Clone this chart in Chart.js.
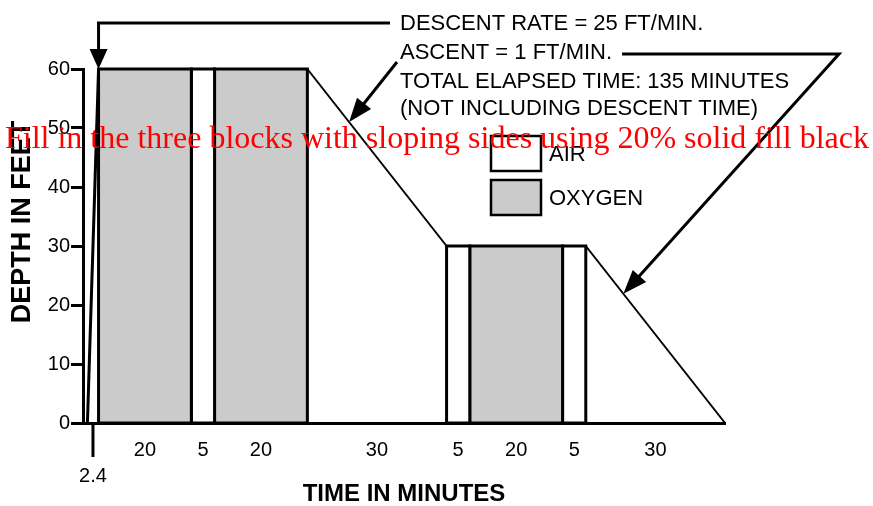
<!DOCTYPE html>
<html>
<head>
<meta charset="utf-8">
<title>Dive profile</title>
<script src="https://cdn.jsdelivr.net/npm/chart.js@4.4.1/dist/chart.umd.min.js"></script>
<style>
  html, body { margin: 0; padding: 0; background: #fff; }
  #wrap { width: 873px; height: 506px; }
</style>
</head>
<body>
<div id="wrap"><canvas id="diveChart" width="873" height="506"></canvas></div>
<script>
// Dive profile data: minutes per segment, depth in feet
const segmentMinutes = [20, 5, 20, 30, 5, 20, 5, 30];
const segmentGas = ['OXYGEN', 'AIR', 'OXYGEN', 'ASCENT', 'AIR', 'OXYGEN', 'AIR', 'ASCENT'];
const segmentStartDepth = [60, 60, 60, 60, 30, 30, 30, 30];
const segmentEndDepth = [60, 60, 60, 30, 30, 30, 30, 0];
const descentMinutes = 2.4;
const bottomDepth = 60;
const depthTicks = [0, 10, 20, 30, 40, 50, 60];
const legendLabels = ['AIR', 'OXYGEN'];
const noteLines = [
    'DESCENT RATE = 25 FT/MIN.',
    'ASCENT = 1 FT/MIN.',
    'TOTAL ELAPSED TIME: 135 MINUTES',
    '(NOT INCLUDING DESCENT TIME)'
];
const overlayNote = 'Fill in the three blocks with sloping sides using 20% solid fill black';

const FONT = '"Liberation Sans", Arial, Helvetica, sans-serif';
const gasStyle = {
    OXYGEN: { fill: '#cbcbcb', width: 3 },
    AIR: { fill: '#ffffff', width: 3 }
};

// segment start times
let clock = 0;
const segmentStart = segmentMinutes.map(function(m) {
    const s = clock;
    clock += m;
    return s;
});
const totalMinutes = clock;

// x tick marks sit under the middle of each segment
const xTickValues = [-descentMinutes / 2].concat(segmentStart.map(function(s, i) {
    return s + segmentMinutes[i] / 2;
}));
const xTickLabels = [['', String(descentMinutes)]].concat(segmentMinutes.map(String));

// build datasets
const blockSets = [];
const slopeSets = [];
segmentGas.forEach(function(gas, i) {
    const t0 = segmentStart[i];
    const t1 = t0 + segmentMinutes[i];
    if (gas === 'ASCENT') {
        slopeSets.push({
            label: 'ascent',
            data: [{ x: t0, y: segmentStartDepth[i] }, { x: t1, y: segmentEndDepth[i] }],
            borderColor: '#000',
            borderWidth: 2,
            fill: false,
            pointRadius: 0,
            clip: false
        });
    } else {
        blockSets.push({
            label: gas,
            data: [
                { x: t0, y: 0 },
                { x: t0, y: segmentStartDepth[i] },
                { x: t1, y: segmentEndDepth[i] },
                { x: t1, y: 0 },
                { x: t0, y: 0 }
            ],
            borderColor: '#000',
            borderWidth: gasStyle[gas].width,
            backgroundColor: gasStyle[gas].fill,
            borderCapStyle: 'square',
            borderJoinStyle: 'miter',
            fill: 'shape',
            pointRadius: 0,
            clip: false
        });
    }
});
const descentSet = {
    label: 'descent',
    data: [{ x: -descentMinutes, y: 0 }, { x: 0, y: bottomDepth }],
    borderColor: '#000',
    borderWidth: 3,
    fill: false,
    pointRadius: 0,
    clip: false
};

function drawArrow(ctx, pts, headLen, headHalf) {
    const n = pts.length;
    const tip = pts[n - 1];
    const prev = pts[n - 2];
    const a = Math.atan2(tip[1] - prev[1], tip[0] - prev[0]);
    ctx.beginPath();
    ctx.moveTo(pts[0][0], pts[0][1]);
    for (let i = 1; i < n - 1; i++) ctx.lineTo(pts[i][0], pts[i][1]);
    ctx.lineTo(tip[0] - headLen * 0.7 * Math.cos(a), tip[1] - headLen * 0.7 * Math.sin(a));
    ctx.stroke();
    ctx.beginPath();
    ctx.moveTo(tip[0], tip[1]);
    ctx.lineTo(tip[0] - headLen * Math.cos(a) + headHalf * Math.sin(a), tip[1] - headLen * Math.sin(a) - headHalf * Math.cos(a));
    ctx.lineTo(tip[0] - headLen * Math.cos(a) - headHalf * Math.sin(a), tip[1] - headLen * Math.sin(a) + headHalf * Math.cos(a));
    ctx.closePath();
    ctx.fill();
}

// point along a segment's slope, as pixels
function slopePixel(chart, i, frac) {
    const t = segmentStart[i] + segmentMinutes[i] * frac;
    const d = segmentStartDepth[i] + (segmentEndDepth[i] - segmentStartDepth[i]) * frac;
    return [chart.scales.x.getPixelForValue(t), chart.scales.y.getPixelForValue(d)];
}

const notesPlugin = {
    id: 'diveNotes',
    afterDraw: function(chart) {
        const ctx = chart.ctx;
        const xs = chart.scales.x;
        const ys = chart.scales.y;
        ctx.save();
        ctx.fillStyle = '#000';
        ctx.strokeStyle = '#000';

        // y axis title
        ctx.save();
        ctx.translate(23, 222);
        ctx.rotate(-Math.PI / 2);
        ctx.font = 'bold 27px ' + FONT;
        ctx.textAlign = 'center';
        ctx.textBaseline = 'middle';
        ctx.fillText('DEPTH IN FEET', 0, 0);
        ctx.restore();

        // descent tick below the axis
        const dx = xs.getPixelForValue(-descentMinutes / 2);
        ctx.lineWidth = 3;
        ctx.beginPath();
        ctx.moveTo(dx, chart.chartArea.bottom);
        ctx.lineTo(dx, chart.chartArea.bottom + 34);
        ctx.stroke();

        // legend
        ctx.font = '22px ' + FONT;
        ctx.textAlign = 'left';
        ctx.textBaseline = 'middle';
        ctx.lineWidth = 2.5;
        legendLabels.forEach(function(lbl, i) {
            const top = 136 + i * 44;
            ctx.fillStyle = gasStyle[lbl].fill;
            ctx.fillRect(491, top, 50, 35);
            ctx.strokeRect(491, top, 50, 35);
            ctx.fillStyle = '#000';
            ctx.fillText(lbl, 549, top + 19);
        });

        // notes
        const noteY = [24, 53, 82, 109];
        noteLines.forEach(function(line, i) {
            ctx.fillText(line, 400, noteY[i]);
        });

        // arrows
        ctx.lineWidth = 3;
        const topTip = [xs.getPixelForValue(0), ys.getPixelForValue(bottomDepth)];
        drawArrow(ctx, [[390, 23], [topTip[0], 23], topTip], 20, 9);
        drawArrow(ctx, [[397, 62], slopePixel(chart, 3, 0.3)], 24, 9);
        const ascentEnd = 400 + ctx.measureText(noteLines[1]).width + 10;
        drawArrow(ctx, [[ascentEnd, 54], [839, 54], slopePixel(chart, 7, 0.27)], 24, 9);

        // red overlay note
        ctx.fillStyle = '#ff0000';
        ctx.font = '32px "Liberation Serif", "Times New Roman", serif';
        ctx.textBaseline = 'alphabetic';
        ctx.fillText(overlayNote, 5, 148);
        ctx.restore();
    }
};

Chart.defaults.font.family = FONT;
Chart.defaults.color = '#000';

const diveChart = new Chart(document.getElementById('diveChart'), {
    type: 'line',
    data: {
        datasets: blockSets.concat(slopeSets, [descentSet])
    },
    options: {
        responsive: false,
        animation: false,
        devicePixelRatio: 1,
        layout: { padding: { top: 69, right: 148, bottom: 0, left: 0 } },
        plugins: {
            legend: { display: false },
            tooltip: { enabled: false }
        },
        scales: {
            x: {
                type: 'linear',
                min: -3.35,
                max: totalMinutes,
                grid: { display: false, drawTicks: false },
                border: { display: true, color: '#000', width: 3 },
                ticks: {
                    autoSkip: false,
                    maxRotation: 0,
                    padding: 14,
                    color: '#000',
                    font: { size: 20, lineHeight: 1.3 },
                    callback: function(value, index) {
                        return xTickLabels[index];
                    }
                },
                afterBuildTicks: function(scale) {
                    scale.ticks = xTickValues.map(function(v) { return { value: v }; });
                },
                afterFit: function(scale) { scale.height = 83; },
                title: {
                    display: true,
                    text: 'TIME IN MINUTES',
                    color: '#000',
                    font: { size: 24, weight: 'bold', lineHeight: 1 },
                    padding: 0
                }
            },
            y: {
                type: 'linear',
                min: 0,
                max: 60,
                afterBuildTicks: function(scale) {
                    scale.ticks = depthTicks.map(function(v) { return { value: v }; });
                },
                grid: {
                    display: true,
                    drawOnChartArea: false,
                    drawTicks: true,
                    tickLength: 12,
                    lineWidth: 3,
                    tickWidth: 3,
                    tickColor: '#000'
                },
                border: { display: true, color: '#000', width: 3 },
                ticks: { padding: 1, color: '#000', font: { size: 20 } },
                afterFit: function(scale) { scale.width = 83; }
            }
        }
    },
    plugins: [notesPlugin]
});
</script>
</body>
</html>
